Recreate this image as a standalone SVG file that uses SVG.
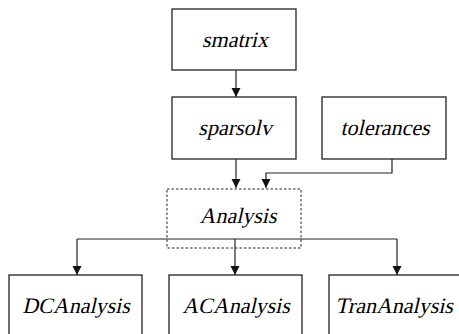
<svg xmlns="http://www.w3.org/2000/svg" width="459" height="334" viewBox="0 0 459 334">
<style>
.box{fill:#fff;stroke:#222;stroke-width:1.3}
.dash{fill:none;stroke:#222;stroke-width:1;stroke-dasharray:2.5,2}
.lbl{font-family:"Liberation Serif","Times New Roman",serif;font-size:22px;fill:#000;text-anchor:middle}
.c{fill:none;stroke:#222;stroke-width:1.2}
</style>
<defs>
<marker id="ah" markerWidth="10" markerHeight="10" refX="9" refY="5" orient="auto" markerUnits="userSpaceOnUse">
<path d="M0,0.5 L9,5 L0,9.5 Z" fill="#111"/>
</marker>
</defs>
<rect width="459" height="334" fill="#fff"/>
<g id="connectors">
<path class="c" d="M236,70 V97" marker-end="url(#ah)"/>
<path class="c" d="M236,159 V188" marker-end="url(#ah)"/>
<path class="c" d="M392,159 V173 H266 V188" marker-end="url(#ah)"/>
<path class="c" d="M77,239 H397"/>
<path class="c" d="M77,239 V275" marker-end="url(#ah)"/>
<path class="c" d="M235,239 V275" marker-end="url(#ah)"/>
<path class="c" d="M397,239 V275" marker-end="url(#ah)"/>
</g>
<g id="smatrix"><rect class="box" x="172" y="9" width="124" height="61"/><text class="lbl" transform="translate(235,47) skewX(-13)">smatrix</text></g>
<g id="sparsolv"><rect class="box" x="172" y="97" width="124" height="62"/><text class="lbl" transform="translate(235,135) skewX(-13)">sparsolv</text></g>
<g id="tolerances"><rect class="box" x="322" y="97" width="124" height="62"/><text class="lbl" transform="translate(385,135) skewX(-13)">tolerances</text></g>
<g id="Analysis"><rect class="dash" x="167" y="189" width="134" height="59"/><text class="lbl" transform="translate(238,223) skewX(-13)">Analysis</text></g>
<g id="DCAnalysis"><rect class="box" x="9" y="275" width="133" height="70"/><text class="lbl" transform="translate(76,313) skewX(-13)">DCAnalysis</text></g>
<g id="ACAnalysis"><rect class="box" x="169" y="275" width="133" height="70"/><text class="lbl" transform="translate(236,313) skewX(-13)">ACAnalysis</text></g>
<g id="TranAnalysis"><rect class="box" x="329" y="275" width="135" height="70"/><text class="lbl" transform="translate(394,313) skewX(-13)">TranAnalysis</text></g>
</svg>
